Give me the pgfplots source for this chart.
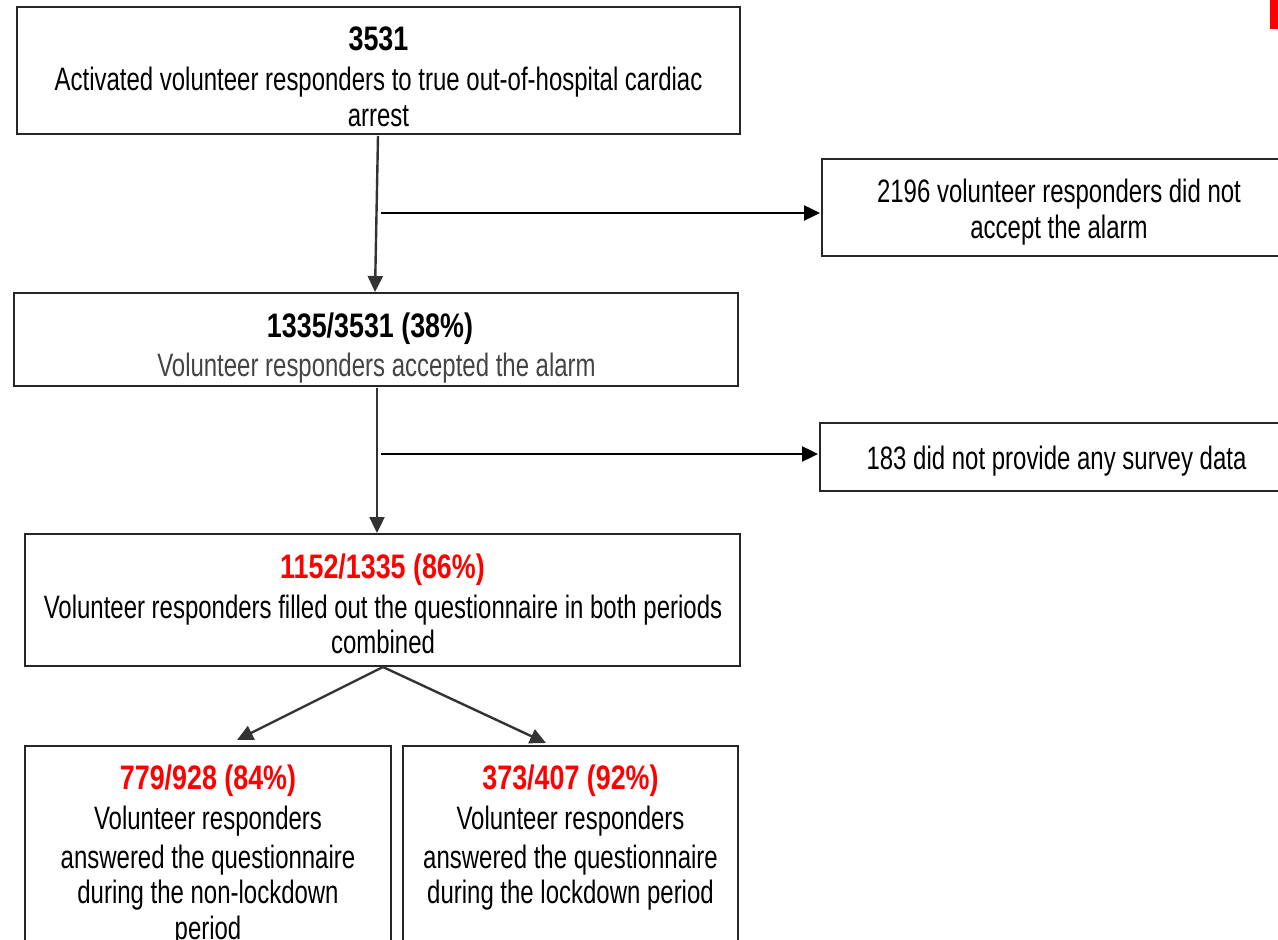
\documentclass[border=0pt]{standalone}
\usepackage{fontspec}
\setmainfont{Liberation Sans}[FakeStretch=0.74]
\newfontfamily\titlefont{Liberation Sans}[FakeStretch=0.79]
\usepackage{pgfplots}
\pgfplotsset{compat=1.18}
\usetikzlibrary{arrows.meta}
\definecolor{fred}{HTML}{FF0000}
\definecolor{lgray}{HTML}{333333}
\definecolor{sgray}{HTML}{444444}
\tikzset{
  body/.style={anchor=base, inner sep=0pt, font=\fontsize{16.2}{19}\selectfont},
  ttl/.style={anchor=base, inner sep=0pt, font=\titlefont\bfseries\fontsize{17}{20}\selectfont},
  box/.style={draw=black!85, line width=0.75pt},
  arr/.style={line width=1.2pt, -{Triangle[length=8pt,width=7.5pt]}},
}
\begin{document}
\begin{tikzpicture}
\begin{axis}[scale only axis, width=639pt, height=470pt,
  xmin=0, xmax=1278, ymin=0, ymax=940, y dir=reverse,
  hide axis, clip=false]
% invisible frame
\addplot[draw=none] coordinates {(0,0) (1278,940)};
% red mark top right
\fill[fred] (axis cs:1270,0) rectangle (axis cs:1280,29);
% boxes
\draw[box] (axis cs:17,7) rectangle (axis cs:740,134);
\draw[box] (axis cs:822,159) rectangle (axis cs:1290,256);
\draw[box] (axis cs:14,293) rectangle (axis cs:738,386);
\draw[box] (axis cs:820,423) rectangle (axis cs:1290,491);
\draw[box] (axis cs:25,534) rectangle (axis cs:740,666);
\draw[box] (axis cs:25,746) rectangle (axis cs:391,960);
\draw[box] (axis cs:403,746) rectangle (axis cs:738,960);
% arrows
\addplot[arr, color=lgray] coordinates {(378,136) (375,292)};
\addplot[arr, color=black] coordinates {(381,213) (820,213)};
\addplot[arr, color=lgray] coordinates {(377,388) (377,533)};
\addplot[arr, color=black] coordinates {(381,454) (818,454)};
\addplot[arr, color=lgray] coordinates {(383,667) (237,740)};
\addplot[arr, color=lgray] coordinates {(383,667) (546,743)};
% texts box 1
\node[ttl] at (axis cs:378.5,51) {3531};
\node[body] at (axis cs:378.5,91) {Activated volunteer responders to true out-of-hospital cardiac};
\node[body] at (axis cs:378.5,127) {arrest};
% right box 1
\node[body] at (axis cs:1059,203) {2196 volunteer responders did not};
\node[body] at (axis cs:1059,239) {accept the alarm};
% box 2
\node[ttl] at (axis cs:370,338) {1335/3531 (38\%)};
\node[body, text=sgray] at (axis cs:376.5,377) {Volunteer responders accepted the alarm};
% right box 2
\node[body] at (axis cs:1056.5,470) {183 did not provide any survey data};
% box 3
\node[ttl, text=fred] at (axis cs:382.5,578) {1152/1335 (86\%)};
\node[body] at (axis cs:383,618) {Volunteer responders filled out the questionnaire in both periods};
\node[body] at (axis cs:383,653) {combined};
% box 4
\node[ttl, text=fred] at (axis cs:208,789) {779/928 (84\%)};
\node[body] at (axis cs:208,829) {Volunteer responders};
\node[body] at (axis cs:208,868) {answered the questionnaire};
\node[body] at (axis cs:208,903) {during the non-lockdown};
\node[body] at (axis cs:208,939) {period};
% box 5
\node[ttl, text=fred] at (axis cs:570.5,789) {373/407 (92\%)};
\node[body] at (axis cs:570.5,829) {Volunteer responders};
\node[body] at (axis cs:570.5,868) {answered the questionnaire};
\node[body] at (axis cs:570.5,903) {during the lockdown period};
\end{axis}
\pgfresetboundingbox
\path[use as bounding box] (current axis.south west) rectangle (current axis.north east);
\end{tikzpicture}
\end{document}
